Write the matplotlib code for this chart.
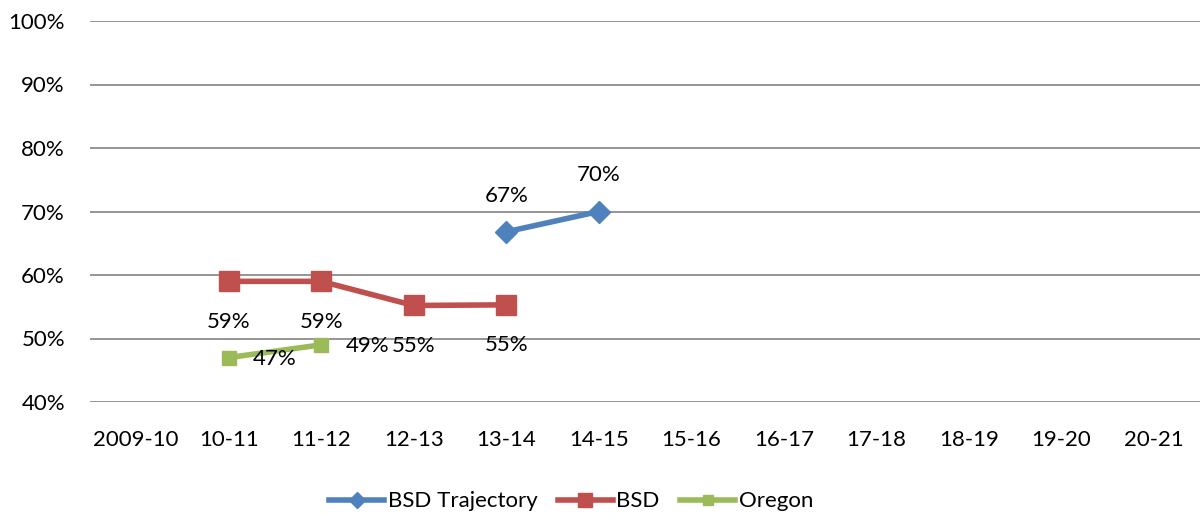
import numpy as np
import matplotlib
matplotlib.use("Agg")
import matplotlib.pyplot as plt

plt.rcParams['font.family'] = ['Lato', 'DejaVu Sans']

years = ['2009-10', '10-11', '11-12', '12-13', '13-14', '14-15',
         '15-16', '16-17', '17-18', '18-19', '19-20', '20-21']

# values in percent, None where a series has no point
trajectory = [None, None, None, None, 66.8, 70.0, None, None, None, None, None, None]
bsd = [None, 59.0, 59.0, 55.2, 55.3, None, None, None, None, None, None, None]
oregon = [None, 47.0, 49.0, None, None, None, None, None, None, None, None, None]

traj_labels = ['67%', '70%']
bsd_labels = ['59%', '59%', '55%', '55%']
oregon_labels = ['47%', '49%']

blue = '#4F81BD'
red = '#C0504D'
green = '#9BBB59'


def to_arr(vals):
    return np.array([np.nan if v is None else v for v in vals], dtype=float)


fig = plt.figure(figsize=(12.02, 5.17), dpi=100)
ax = fig.add_axes([90 / 1202, 1 - 402 / 517, 1110 / 1202, 381 / 517])

x = np.arange(len(years))
t = to_arr(trajectory)
b = to_arr(bsd)
o = to_arr(oregon)

ax.plot(x, t, color=blue, lw=4, marker='D', ms=11, label='BSD Trajectory', zorder=3)
ax.plot(x, b, color=red, lw=4, marker='s', ms=14, label='BSD', zorder=3)
ax.plot(x, o, color=green, lw=4, marker='s', ms=10, label='Oregon', zorder=3)

fs = 16
for xi, v, lab in zip(x[~np.isnan(t)], t[~np.isnan(t)], traj_labels):
    ax.annotate(lab, (xi, v), xytext=(0, 26), textcoords='offset points',
                ha='center', va='center', fontsize=fs)
for xi, v, lab in zip(x[~np.isnan(b)], b[~np.isnan(b)], bsd_labels):
    ax.annotate(lab, (xi, v), xytext=(0, -29), textcoords='offset points',
                ha='center', va='center', fontsize=fs)
for xi, v, lab in zip(x[~np.isnan(o)], o[~np.isnan(o)], oregon_labels):
    ax.annotate(lab, (xi, v), xytext=(33, -1), textcoords='offset points',
                ha='center', va='center', fontsize=fs)

ax.set_xlim(-0.5, len(years) - 0.5)
ax.set_ylim(40, 100)
ax.set_yticks(np.arange(40, 101, 10))
ax.set_yticklabels([f'{v}%' for v in range(40, 101, 10)], fontsize=fs)
ax.set_xticks(x)
ax.set_xticklabels(years, fontsize=fs)
ax.tick_params(axis='x', length=0, pad=20)
ax.tick_params(axis='y', length=0, pad=18)
ax.grid(axis='y', color='#8c8c8c', lw=1.3)
for s in ax.spines.values():
    s.set_visible(False)

fig.legend(loc='center', bbox_to_anchor=(0.475, 0.03), ncol=3, frameon=False,
           fontsize=fs, handlelength=2.5, handletextpad=0.15, columnspacing=0.9,
           markerscale=0.75)

fig.savefig('out.png', dpi=100)
